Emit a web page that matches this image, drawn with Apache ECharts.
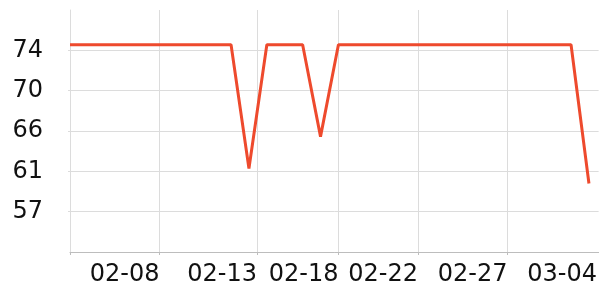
<!DOCTYPE html>
<html><head><meta charset="utf-8">
<script src="https://cdn.jsdelivr.net/npm/echarts@6/dist/echarts.min.js"></script>
<style>html,body{margin:0;padding:0;background:#fff}#c{width:600px;height:300px}</style>
</head><body><div id="c"></div>
<script>
const dates = ['02-03','02-04','02-05','02-06','02-07','02-08','02-09','02-10','02-11','02-12',
  '02-13','02-14','02-15','02-16','02-17','02-18','02-19','02-20','02-21','02-22',
  '02-23','02-24','02-25','02-26','02-27','02-28','03-01','03-02','03-03','03-04'];
const values = [74.8,74.8,74.8,74.8,74.8,74.8,74.8,74.8,74.8,74.8,
  61.6,74.8,74.8,74.8,65.0,74.8,74.8,74.8,74.8,74.8,
  74.8,74.8,74.8,74.8,74.8,74.8,74.8,74.8,74.8,60.0];
const xTickLabels = ['02-08','02-13','02-18','02-22','02-27','03-04'];
const xTickAt = [5, 10.45, 15, 19.45, 24.45, 29.45];
const yMin = 52.7, yMax = 78.5, yStep = 4.3;

const chart = echarts.init(document.getElementById('c'), null, {renderer: 'canvas'});
const font = 'DejaVu Sans';
chart.setOption({
  animation: false,
  grid: {left: 70, right: 0, top: 10, bottom: 48, containLabel: false},
  xAxis: {
    type: 'value', min: 0, max: 29.54,
    axisLine: {show: true, lineStyle: {color: '#bdbdbd', width: 1}},
    axisTick: {show: true, length: 3, lineStyle: {color: '#bdbdbd'}, customValues: [0].concat(xTickAt.slice(0, 5))},
    splitLine: {show: true, lineStyle: {color: '#dcdcdc', width: 1}},
    axisLabel: {
      customValues: xTickAt, align: 'right', margin: 11,
      fontFamily: font, fontSize: 24, color: '#111',
      formatter: v => { let best = 0; xTickAt.forEach((t, i) => { if (Math.abs(t - v) < Math.abs(xTickAt[best] - v)) best = i; }); return xTickLabels[best]; }
    }
  },
  yAxis: {
    type: 'value', min: yMin, max: yMax, interval: yStep,
    axisLine: {show: true, lineStyle: {color: '#dcdcdc'}},
    axisTick: {show: true, length: 2, lineStyle: {color: '#dcdcdc'}},
    splitLine: {show: true, showMaxLine: false, lineStyle: {color: '#dcdcdc', width: 1}},
    axisLabel: {showMinLabel: false, showMaxLabel: false, margin: 27, fontFamily: font, fontSize: 24, color: '#111',
      formatter: v => String(Math.round(v))}
  },
  series: [{
    type: 'line', symbol: 'none',
    data: dates.map((d, i) => [i, values[i]]),
    lineStyle: {color: '#ee4a2d', width: 3}
  }]
});
</script></body></html>
